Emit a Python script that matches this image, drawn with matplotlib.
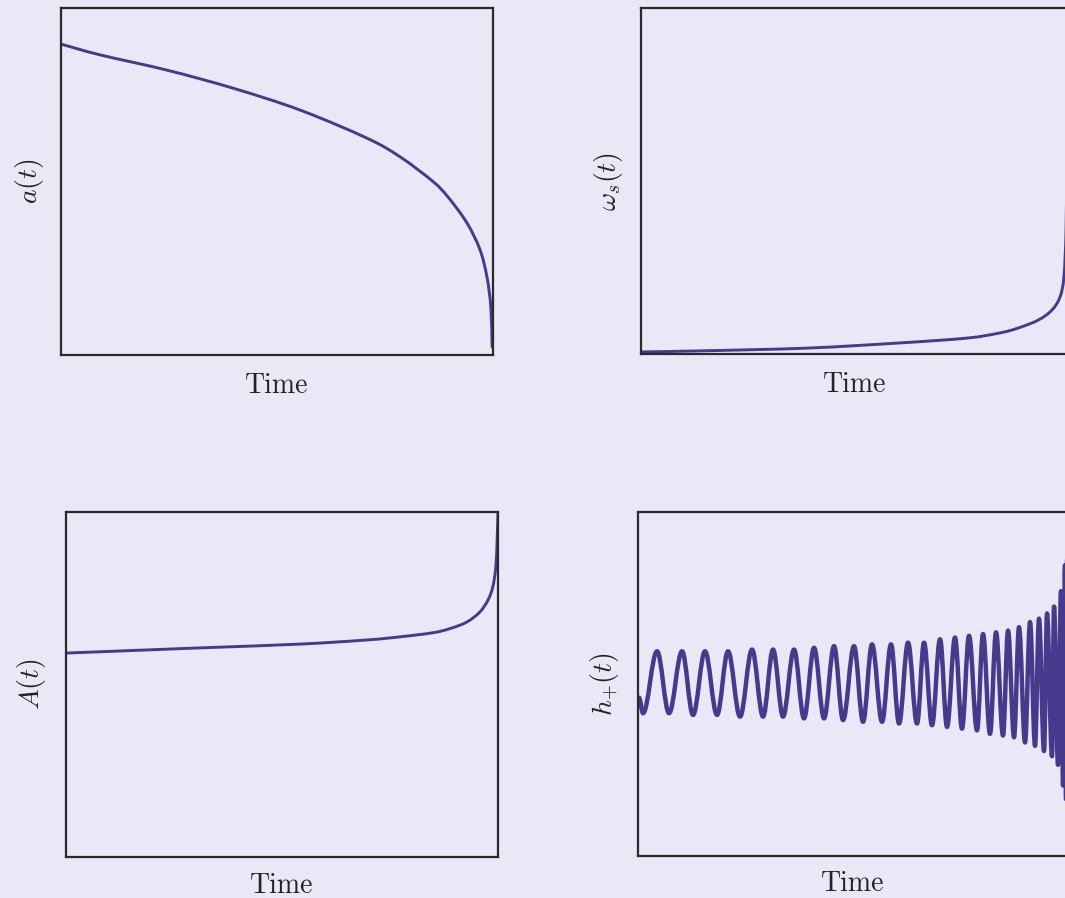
import matplotlib
matplotlib.use("Agg")
import matplotlib.pyplot as plt
from matplotlib.path import Path
from matplotlib.patches import PathPatch

# time axis is in percent of the plotted window, values in fractions of the y-range
a_t = [0, 9.0, 24.5, 39.8, 55.3, 70.8, 78.5, 86.1, 89.6, 94.0, 97.0, 98.6, 99.5, 99.8]
a_v = [0.896, 0.865, 0.821, 0.769, 0.706, 0.625, 0.571, 0.500, 0.455, 0.380, 0.303, 0.225, 0.138, 0.023]

w_t = [0, 13.8, 38.8, 60.5, 76.2, 83.9, 88.1, 92.8, 96.0, 97.9, 98.8, 99.3, 99.5, 99.8]
w_v = [0.006, 0.009, 0.017, 0.032, 0.046, 0.061, 0.075, 0.098, 0.127, 0.165, 0.223, 0.358, 0.59, 1.0]

A_t = [0.2, 31.0, 54.2, 69.7, 77.3, 85.0, 88.9, 92.8, 95.8, 97.7, 98.8, 99.5, 99.8, 100.0]
A_v = [0.591, 0.606, 0.617, 0.629, 0.638, 0.650, 0.662, 0.681, 0.710, 0.745, 0.783, 0.841, 0.919, 0.997]

# h_+ : start point, then alternating troughs / peaks
hp_t = [0.23, 1.17, 4.43, 7.23, 10.26, 12.82, 15.62, 18.41, 20.98, 23.78, 26.57,
        29.14, 31.47, 33.80, 36.36, 38.69, 41.03, 43.36, 45.69, 47.79, 50.35,
        52.45, 54.55, 56.88, 58.97, 60.84, 62.94, 65.03, 66.67, 68.53, 70.40,
        72.03, 73.89, 75.52, 77.16, 79.02, 80.42, 82.05, 83.45, 85.08, 86.25,
        87.65, 88.81, 90.21, 91.38, 92.54, 93.47, 94.64, 95.34, 96.50, 96.97,
        97.90, 98.60, 99.07, 99.53, 99.77, 100.0]
hp_h = [-0.08, -0.17, 0.19, -0.17, 0.19, -0.18, 0.19, -0.18, 0.19, -0.19, 0.20,
        -0.19, 0.20, -0.19, 0.20, -0.20, 0.21, -0.20, 0.22, -0.21, 0.22,
        -0.22, 0.23, -0.22, 0.23, -0.23, 0.24, -0.23, 0.24, -0.24, 0.26,
        -0.25, 0.27, -0.26, 0.28, -0.27, 0.29, -0.29, 0.30, -0.30, 0.31,
        -0.31, 0.33, -0.34, 0.36, -0.36, 0.38, -0.39, 0.41, -0.42, 0.45,
        -0.47, 0.54, -0.59, 0.69, -0.67, 0.72]

BG = "#e8e8f6"
LINE = "#47398c"
SPINE = "#2a2a2a"

plt.rcParams["font.family"] = "serif"
plt.rcParams["font.serif"] = ["cmr10"]
plt.rcParams["mathtext.fontset"] = "cm"
plt.rcParams["axes.unicode_minus"] = False


def wave_path(ts, hs):
    # cubic segments with flat tangents at each extremum (k = 1 - 2/pi)
    k = 0.3634
    verts = [(ts[0], hs[0])]
    codes = [Path.MOVETO]
    for i in range(1, len(ts)):
        dt = ts[i] - ts[i - 1]
        verts += [(ts[i - 1] + k * dt, hs[i - 1]), (ts[i] - k * dt, hs[i]), (ts[i], hs[i])]
        codes += [Path.CURVE4] * 3
    return Path(verts, codes)


def smooth_path(ts, vs):
    # catmull-rom through the read points, drawn as bezier segments
    n = len(ts)
    verts = [(ts[0], vs[0])]
    codes = [Path.MOVETO]
    for i in range(n - 1):
        p0 = max(i - 1, 0)
        p3 = min(i + 2, n - 1)
        c1 = (ts[i] + (ts[i + 1] - ts[p0]) / 6, vs[i] + (vs[i + 1] - vs[p0]) / 6)
        c2 = (ts[i + 1] - (ts[p3] - ts[i]) / 6, vs[i + 1] - (vs[p3] - vs[i]) / 6)
        verts += [c1, c2, (ts[i + 1], vs[i + 1])]
        codes += [Path.CURVE4] * 3
    return Path(verts, codes)


def style(ax, ylabel, ylab_x, xlab_y):
    ax.set_facecolor(BG)
    ax.set_xticks([])
    ax.set_yticks([])
    for s in ax.spines.values():
        s.set_color(SPINE)
        s.set_linewidth(1.6)
    ax.set_xlabel("Time", fontsize=20, va="baseline", color="#222222")
    ax.xaxis.set_label_coords(0.5, xlab_y)
    ax.set_ylabel(ylabel, fontsize=20, va="center", color="#222222")
    ax.yaxis.set_label_coords(ylab_x, 0.5)


fig = plt.figure(figsize=(10.65, 8.98), dpi=100)
fig.patch.set_facecolor(BG)

ax1 = fig.add_axes([0.0573, 0.6047, 0.4056, 0.3864])
ax2 = fig.add_axes([0.6019, 0.6058, 0.4019, 0.3853])
ax3 = fig.add_axes([0.0620, 0.0457, 0.4056, 0.3842])
ax4 = fig.add_axes([0.5991, 0.0468, 0.4028, 0.3831])

curve_kw = dict(fill=False, edgecolor=LINE, lw=2.1, capstyle="round", joinstyle="round")

ax1.add_patch(PathPatch(smooth_path(a_t, a_v), **curve_kw))
ax1.set_xlim(0, 100)
ax1.set_ylim(0, 1)
style(ax1, r"$a(t)$", -0.074, -0.110)

ax2.add_patch(PathPatch(smooth_path(w_t, w_v), **curve_kw))
ax2.set_xlim(0, 100)
ax2.set_ylim(0, 1)
style(ax2, r"$\omega_s(t)$", -0.075, -0.110)

ax3.add_patch(PathPatch(smooth_path(A_t, A_v), **curve_kw))
ax3.set_xlim(0, 100)
ax3.set_ylim(0, 1)
style(ax3, r"$A(t)$", -0.081, -0.104)

ax4.add_patch(PathPatch(wave_path(hp_t, hp_h), fill=False, edgecolor=LINE,
                        lw=3.2, capstyle="round", joinstyle="round"))
ax4.set_xlim(0, 100)
ax4.set_ylim(-1, 1)
style(ax4, r"$h_{+}(t)$", -0.079, -0.102)

fig.savefig("out.png", dpi=100, facecolor=BG)
